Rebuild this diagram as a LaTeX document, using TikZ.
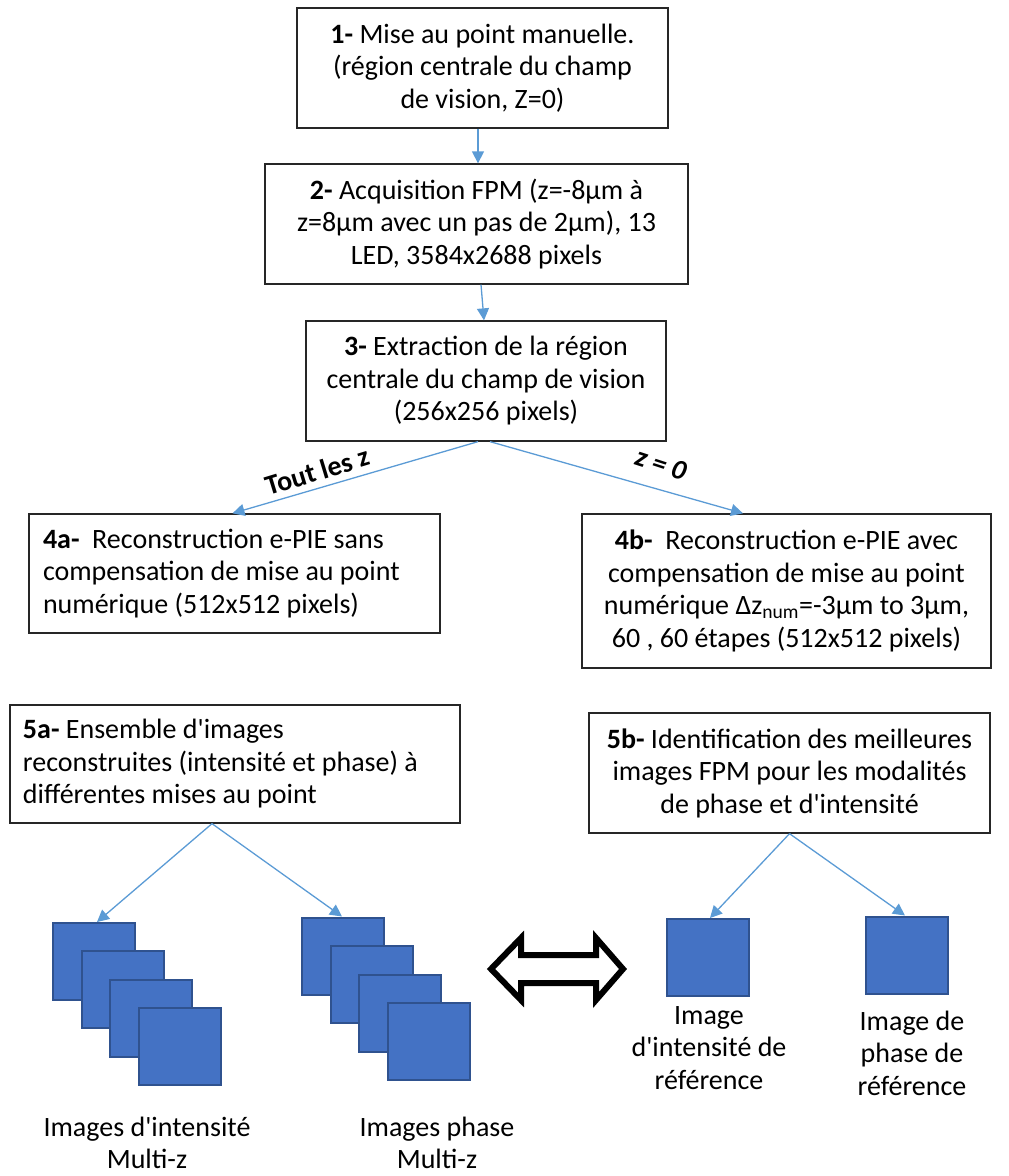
\documentclass[tikz,border=0pt]{standalone}
\usepackage{fontspec}
\setmainfont{Carlito}[Ligatures=TeXOff]
\usetikzlibrary{arrows.meta}
\definecolor{flow}{HTML}{5B9BD5}
\definecolor{imgfill}{HTML}{4472C4}
\definecolor{imgedge}{HTML}{2F528F}

\begin{document}
\begin{tikzpicture}[x=1pt,y=-1pt,
  font=\fontsize{28}{32.5}\selectfont,
  stepbox/.style={draw=black!85, line width=1.3pt, fill=white, inner sep=0pt, align=center},
  leftbox/.style={stepbox, align=flush left},
  flowarrow/.style={draw=flow, line width=1.3pt, -{Triangle[length=12pt,width=12pt]}},
  img/.style={draw=imgedge, line width=2pt, fill=imgfill, minimum width=82pt, minimum height=77pt, inner sep=0pt},
  caption/.style={align=center, inner sep=0pt},
  branch/.style={font=\fontsize{28}{32.5}\selectfont\bfseries, inner sep=0pt}]
\useasboundingbox (0,0) rectangle (1009,1176);

% processing steps
\node[stepbox, minimum width=371pt, minimum height=120pt] (b1) at (482.5,68)
  {\textbf{1-} Mise au point manuelle.\\(région centrale du champ\\de vision, Z=0)};
\node[stepbox, minimum width=423pt, minimum height=120pt] (b2) at (476.5,224)
  {\textbf{2-} Acquisition FPM (z=-8µm à\\z=8µm avec un pas de 2µm), 13\\LED, 3584x2688 pixels};
\node[stepbox, minimum width=360pt, minimum height=120pt] (b3) at (486,381)
  {\textbf{3-} Extraction de la région\\centrale du champ de vision\\(256x256 pixels)};
\node[leftbox, inner xsep=14pt, minimum width=411pt, minimum height=119pt, text width=383pt] (b4a) at (234.5,573.5)
  {\textbf{4a-}\ \ Reconstruction e-PIE sans\\compensation de mise au point\\numérique (512x512 pixels)};
\node[stepbox, minimum width=409pt, minimum height=154pt] (b4b) at (786.5,591)
  {\textbf{4b-}\ \ Reconstruction e-PIE avec\\compensation de mise au point\\numérique Δz\textsubscript{num}=-3µm to 3µm,\\60 , 60 étapes (512x512 pixels)};
\node[leftbox, inner xsep=13pt, minimum width=450pt, minimum height=118pt, text width=424pt] (b5a) at (235,764)
  {\textbf{5a-} Ensemble d'images\\reconstruites (intensité et phase) à\\différentes mises au point};
\node[stepbox, minimum width=401pt, minimum height=120pt] (b5b) at (789.5,773)
  {\textbf{5b-} Identification des meilleures\\images FPM pour les modalités\\de phase et d'intensité};

% image stacks (later squares lie on top)
\foreach \k in {0,...,3} {
  \node[img] (s\k) at (94+28.5*\k, 961.5+28.4*\k) {};
}
\foreach \k in {0,...,3} {
  \node[img] (p\k) at (343+28.6*\k, 956+28.5*\k) {};
}
\node[img] (r1) at (708,957.5) {};
\node[img] (r2) at (906.5,955) {};

% captions
\node[caption] (c1) at (147,1143) {Images d'intensité\\Multi-z};
\node[caption] (c2) at (437,1143) {Images phase\\Multi-z};
\node[caption] (c3) at (709,1048) {Image\\d'intensité de\\référence};
\node[caption] (c4) at (912,1053) {Image de\\phase de\\référence};

% flow connectors
\draw[flowarrow] ([xshift=-4.5pt]b1.south) -- ([xshift=1.5pt]b2.north);
\draw[flowarrow] ([xshift=4.5pt]b2.south) -- ([xshift=-2pt]b3.north);
\draw[flowarrow] ([xshift=-8pt]b3.south) -- ([xshift=-2pt]b4a.north);
\draw[flowarrow] ([xshift=4pt]b3.south) -- ([xshift=-43.5pt]b4b.north);
\node[branch, rotate=17] (lz) at (317,471) {Tout les z};
\node[branch, rotate=-18] (l0) at (661,464) {\itshape z = 0};

\draw[flowarrow] ([xshift=-23pt]b5a.south) -- ([xshift=3pt]s0.north);
\draw[flowarrow] ([xshift=-23pt]b5a.south) -- ([xshift=-1pt]p0.north);
\draw[flowarrow] (b5b.south) -- ([xshift=2pt]r1.north);
\draw[flowarrow] (b5b.south) -- ([xshift=-1.5pt]r2.north);

% comparison double arrow
\draw[line width=6pt, line join=miter, fill=white]
  (491,969) -- (521,938) -- (521,955) -- (596,955) -- (596,938) -- (623,969)
  -- (596,1000) -- (596,983) -- (521,983) -- (521,1000) -- cycle;
\end{tikzpicture}
\end{document}
